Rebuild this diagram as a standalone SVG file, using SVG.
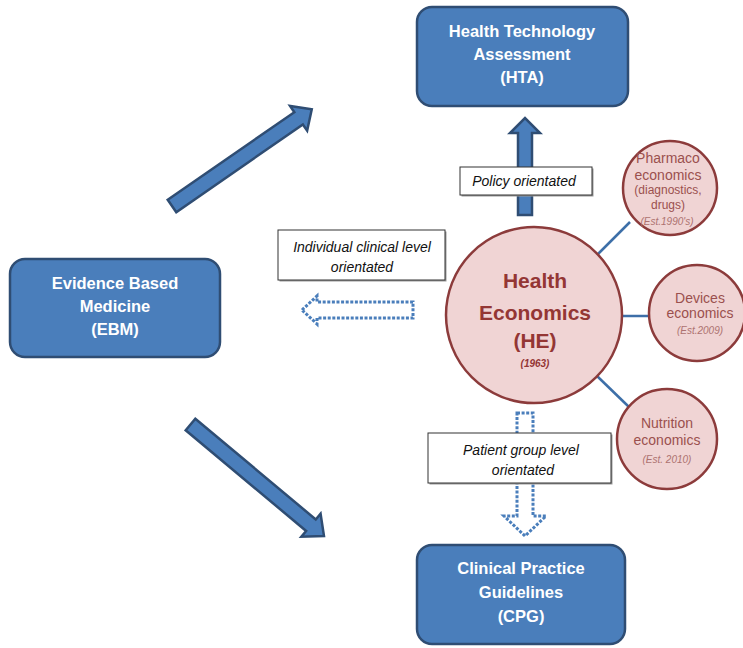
<svg xmlns="http://www.w3.org/2000/svg" width="743" height="648" viewBox="0 0 743 648">
  <style>
    .box { fill: #4a7ebb; stroke: #2f4d73; stroke-width: 2.5; }
    .boxtxt { font-family: "Liberation Sans", Arial, sans-serif; font-weight: bold; font-size: 16.5px; fill: #ffffff; text-anchor: middle; }
    .blockarrow { fill: #4a7ebb; stroke: #2f4d73; stroke-width: 2.5; stroke-linejoin: miter; }
    .dotarrow { fill: none; stroke: #4a7ebb; stroke-width: 3; stroke-dasharray: 3 1.6; }
    .label { fill: #ffffff; stroke: #333333; stroke-width: 1; }
    .labelshadow { fill: #9a9a9a; }
    .labeltxt { font-family: "Liberation Sans", Arial, sans-serif; font-style: italic; font-size: 14px; fill: #111111; text-anchor: middle; }
    .spoke { stroke: #3d6fa8; stroke-width: 2.5; }
    .he { fill: #f0d4d4; stroke: #8c3b3b; stroke-width: 2.5; }
    .hetxt { font-family: "Liberation Sans", Arial, sans-serif; font-weight: bold; font-size: 21px; fill: #943634; text-anchor: middle; }
    .heyear { font-family: "Liberation Sans", Arial, sans-serif; font-weight: bold; font-style: italic; font-size: 10px; fill: #943634; text-anchor: middle; }
    .sub { fill: #f0d4d4; stroke: #8c3b3b; stroke-width: 2.5; }
    .subtxt { font-family: "Liberation Sans", Arial, sans-serif; font-size: 14px; fill: #9b504e; text-anchor: middle; }
    .subsmall { font-family: "Liberation Sans", Arial, sans-serif; font-size: 12px; fill: #9b504e; text-anchor: middle; }
    .est { font-family: "Liberation Sans", Arial, sans-serif; font-style: italic; font-size: 10px; fill: #ad7270; text-anchor: middle; }
  </style>

  <!-- connectors -->
  <g id="connectors">
    <!-- EBM to HTA -->
    <polygon class="blockarrow" transform="translate(172,206) rotate(-34.7)" points="0,-7.5 154,-7.5 154,-15 170,0 154,15 154,7.5 0,7.5"/>
    <!-- EBM to CPG -->
    <polygon class="blockarrow" transform="translate(190.5,424.5) rotate(39.9)" points="0,-7.5 157,-7.5 157,-15 174,0 157,15 157,7.5 0,7.5"/>
    <!-- HE up to HTA -->
    <polygon class="blockarrow" points="518,215 518,133 510,133 525,118 540,133 532,133 532,215"/>
    <!-- HE left to EBM (dotted) -->
    <polygon class="dotarrow" points="302,310 317,296 317,302 413,302 413,318 317,318 317,324"/>
    <!-- HE down to CPG (dotted) -->
    <polygon class="dotarrow" points="517,413 533,413 533,516 546,516 525,536 504,516 517,516"/>
    <!-- HE spokes -->
    <line class="spoke" x1="597" y1="255" x2="630" y2="222"/>
    <line class="spoke" x1="622" y1="316" x2="650" y2="316"/>
    <line class="spoke" x1="597" y1="376" x2="629" y2="407"/>
  </g>

  <!-- orientation labels -->
  <g id="label-policy">
    <rect class="labelshadow" x="461.5" y="168.5" width="132" height="28"/>
    <rect class="label" x="460" y="167" width="132" height="28"/>
    <text class="labeltxt" x="524" y="186">Policy orientated</text>
  </g>
  <g id="label-individual">
    <rect class="labelshadow" x="279.5" y="231.5" width="167" height="50"/>
    <rect class="label" x="278" y="230" width="167" height="50"/>
    <text class="labeltxt" x="362" y="252">Individual clinical level</text>
    <text class="labeltxt" x="362" y="272">orientated</text>
  </g>
  <g id="label-patient">
    <rect class="labelshadow" x="429.5" y="434.5" width="183" height="50"/>
    <rect class="label" x="428" y="433" width="183" height="50"/>
    <text class="labeltxt" x="521" y="455">Patient group level</text>
    <text class="labeltxt" x="523" y="475">orientated</text>
  </g>

  <g id="hta">
    <rect class="box" x="417" y="7" width="211" height="99" rx="15"/>
    <text class="boxtxt" x="522" y="37">Health Technology</text>
    <text class="boxtxt" x="522" y="60">Assessment</text>
    <text class="boxtxt" x="522" y="83">(HTA)</text>
  </g>

  <g id="ebm">
    <rect class="box" x="10" y="259" width="210" height="98" rx="15"/>
    <text class="boxtxt" x="115" y="289">Evidence Based</text>
    <text class="boxtxt" x="115" y="312">Medicine</text>
    <text class="boxtxt" x="115" y="335">(EBM)</text>
  </g>

  <g id="cpg">
    <rect class="box" x="417" y="545" width="208" height="99" rx="15"/>
    <text class="boxtxt" x="521" y="574">Clinical Practice</text>
    <text class="boxtxt" x="521" y="598">Guidelines</text>
    <text class="boxtxt" x="521" y="622">(CPG)</text>
  </g>

  <g id="he">
    <circle class="he" cx="534" cy="315" r="88"/>
    <text class="hetxt" x="535" y="288">Health</text>
    <text class="hetxt" x="535" y="320">Economics</text>
    <text class="hetxt" x="535" y="348">(HE)</text>
    <text class="heyear" x="535" y="367">(1963)</text>
  </g>

  <g id="pharmaco">
    <circle class="sub" cx="670" cy="188" r="47"/>
    <text class="subtxt" x="668" y="163">Pharmaco</text>
    <text class="subtxt" x="668" y="180">economics</text>
    <text class="subsmall" x="668" y="194">(diagnostics,</text>
    <text class="subsmall" x="668" y="209">drugs)</text>
    <text class="est" x="667" y="225">(Est.1990's)</text>
  </g>

  <g id="devices">
    <circle class="sub" cx="697" cy="313" r="48"/>
    <text class="subtxt" x="700" y="303">Devices</text>
    <text class="subtxt" x="700" y="318">economics</text>
    <text class="est" x="700" y="334">(Est.2009)</text>
  </g>

  <g id="nutrition">
    <circle class="sub" cx="667" cy="439" r="50"/>
    <text class="subtxt" x="667" y="428">Nutrition</text>
    <text class="subtxt" x="667" y="445">economics</text>
    <text class="est" x="667" y="463">(Est. 2010)</text>
  </g>
</svg>
